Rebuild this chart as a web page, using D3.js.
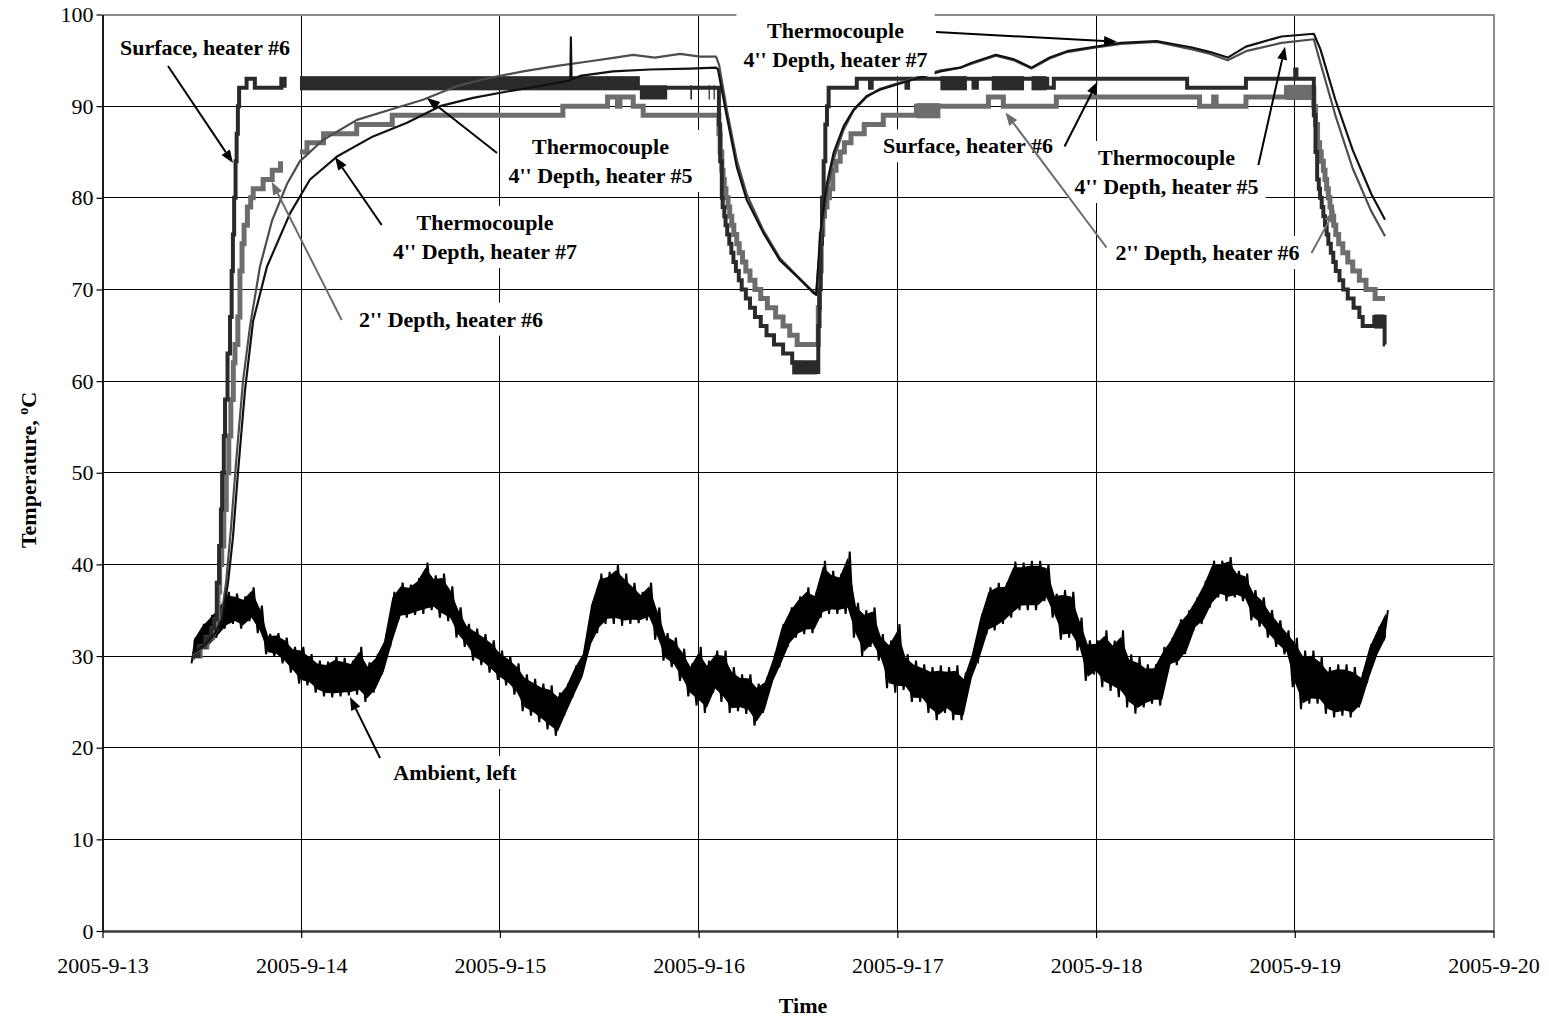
<!DOCTYPE html>
<html>
<head>
<meta charset="utf-8">
<script src="https://cdn.jsdelivr.net/npm/d3@7"></script>
<style>
  body { margin: 0; background: #fff; }
  svg text { font-family: "Liberation Serif", "Times New Roman", serif; }
</style>
</head>
<body>
<svg id="chart" width="1549" height="1021"></svg>
<script>
// ---- Data (hours counted from 2005-09-13 00:00, temperatures in °C) ----
const dayTicks = [0, 24, 48, 72, 96, 120, 144, 168];
const tempTicks = [0, 10, 20, 30, 40, 50, 60, 70, 80, 90, 100];

// Ambient: hourly low/high of the logged readings, first bin at hour 11
const ambientStartHour = 11;
const ambientLow = [
  29.2, 30.5, 31, 32, 33, 33.5, 33, 33.8, 32.5, 30.2, 30, 29.2, 28.2, 27, 26.8, 26, 25.6, 25.5, 25.6, 25.7,
  25.8, 25, 26, 28, 31, 34, 34.2, 34.5, 34.6, 35, 34.2, 33.8, 32, 31, 29.5, 29, 28.2, 27.4, 26.8, 25.8,
  24, 23.5, 22.8, 22, 21.3, 23.5, 25.5, 27.5, 30.8, 32.5, 33.5, 33.5, 33.3, 33.5, 33.6, 33.9, 31.8, 29.5, 28.8, 27.3,
  25.6, 24.6, 23.8, 26, 25, 23.8, 24, 23.7, 22.4, 23.8, 27, 28.8, 31, 32, 32.4, 32.5, 34.2, 34.6, 34.6, 34.6,
  32, 30, 31, 29.5, 26.5, 26, 26.3, 25, 25, 23.8, 23, 23.8, 23, 23, 27.3, 29.5, 32.4, 32.8, 33.5, 34.2,
  35, 35, 35, 36, 34.2, 31.8, 32, 30.6, 27.3, 28, 26.6, 26.2, 25.5, 24.4, 23.7, 24.4, 24.8, 24.6, 28.8, 29,
  30.2, 32.8, 33.5, 35.3, 36.4, 36, 36.4, 36, 33.9, 33.2, 32, 31, 30.2, 26.6, 24.2, 24.8, 24.8, 23.7, 23.3, 23.5,
  23.3, 24.4, 27.3, 29.9, 31.7
];
const ambientHigh = [
  32, 33.5, 34.5, 35.5, 37, 36.8, 36.5, 37.5, 35.5, 32.4, 32.5, 32, 31, 31, 30.2, 29.5, 29.4, 30, 29.8, 29.5,
  31, 29.3, 30.2, 32, 37, 38, 37.8, 38.5, 40.2, 38.8, 39, 37.6, 35.3, 33.5, 33, 32.4, 31.7, 30.6, 30, 29.2,
  28, 27.5, 27, 26.8, 26, 27, 29, 30.5, 36, 39, 39.2, 40, 39, 38, 37, 38, 35.3, 32.5, 32, 30.8,
  29.2, 31, 29.5, 30.6, 30.6, 28.8, 28, 28, 27, 27.5, 30, 33.5, 35.3, 36.5, 37.5, 37, 40.4, 39.3, 39, 41.4,
  35.8, 35, 35.3, 32.4, 31.7, 33.5, 30.2, 29.5, 29.1, 28.8, 29, 28.8, 29, 28, 30.5, 34.6, 37.5, 38, 38, 40.3,
  40.2, 40.4, 40.4, 40, 36.8, 37.2, 37, 34.2, 31.7, 31.7, 32.8, 31.7, 32.8, 30.2, 29.9, 29.1, 29.1, 31, 32, 34,
  35, 36.4, 38.2, 40.4, 40.4, 40.8, 39.3, 39, 37.2, 36.4, 35, 33.9, 32.8, 32, 30.6, 30.6, 29.9, 28.8, 29.1, 29.1,
  28.8, 28, 31.3, 33.2, 35
];

// Surface, heater #6: sensor change points [hour, °C] (1 °C resolution, null = no record)
const surfaceSteps = [
  [10.9, 30], [11.6, 31], [12.4, 32], [13.1, 33], [13.47, 34], [13.8, 38], [14.08, 42], [14.3, 46], [14.45, 50],
  [14.65, 54], [14.8, 58], [15.1, 63], [15.4, 67], [15.6, 72], [15.75, 76], [15.9, 80], [16.07, 84], [16.2, 87],
  [16.35, 90], [16.5, 92], [17.4, 93], [18.4, 92], [21.6, 93], [22.0, 92], [22.65, null], [23.85, 92],
  [74.3, 92], [74.45, 88], [74.6, 84], [74.8, 80], [74.9, 79], [75.1, 78], [75.25, 77], [75.45, 76], [75.7, 75],
  [75.95, 74], [76.2, 73], [76.5, 72], [76.85, 71], [77.2, 70], [77.7, 69], [78.2, 68], [78.8, 67], [79.5, 66],
  [80.2, 65], [81.1, 64], [82.2, 63], [83.3, 62], [84.3, 61],
  [86.3, 61], [86.45, 66], [86.6, 70], [86.75, 75], [86.9, 80], [87.1, 84], [87.3, 88], [87.5, 90], [87.7, 92],
  [91.1, 93], [92.7, 92], [92.9, 93], [97.1, 92], [97.3, 93], [105.2, 92], [105.6, 93], [114.1, 92], [114.9, 93],
  [131.0, 92], [138.1, 93], [144.05, 94], [144.2, 93],
  [146.1, 93], [146.3, 89], [146.5, 85], [146.7, 82], [146.9, 81], [147.05, 80], [147.25, 79], [147.45, 78],
  [147.65, 77], [147.85, 76], [148.05, 75], [148.35, 74], [148.65, 73], [148.95, 72], [149.4, 71], [149.85, 70],
  [150.4, 69], [151.1, 68], [151.8, 67], [152.2, 66], [153.6, 67], [154.85, 64], [154.9, 64]
];
// Spans where the reading toggles between two adjacent degrees [fromHour, toHour, low, high]
const surfaceToggle = [
  [23.85, 64.9, 92, 93], [64.9, 68.2, 91, 92], [71.0, 71.2, 91, 92], [73.2, 73.35, 91, 92], [73.8, 73.95, 91, 92],
  [83.3, 86.3, 61, 62], [101.2, 104.4, 92, 93], [107.4, 111.3, 92, 93], [112.2, 114.0, 92, 93], [153.6, 154.85, 66, 67]
];

// 2" depth, heater #6
const depth2Steps = [
  [10.9, 30], [11.8, 31], [12.6, 32], [13.3, 33], [13.7, 34], [13.95, 37], [14.15, 40], [14.4, 42], [14.65, 46],
  [14.95, 50], [15.25, 54], [15.5, 58], [15.8, 62], [16.0, 64], [16.35, 67], [16.6, 72], [16.85, 75], [17.1, 77],
  [17.5, 79], [17.9, 80], [18.2, 81], [19.4, 82], [20.5, 83], [21.5, 84], [22.65, null], [23.85, 85], [24.7, 86],
  [26.7, 87], [30.7, 88], [35.0, 89], [55.6, 90], [61.0, 91], [62.2, 90], [62.5, 91], [64.1, 90], [65.3, 89],
  [74.3, 89], [74.45, 87], [74.6, 85], [74.8, 83], [74.95, 82], [75.1, 81], [75.3, 80], [75.55, 79], [75.75, 78],
  [76.0, 77], [76.25, 76], [76.6, 75], [76.9, 74], [77.3, 73], [77.7, 72], [78.2, 71], [78.8, 70], [79.5, 69],
  [80.3, 68], [81.3, 67], [82.2, 66], [83.0, 65], [83.9, 64],
  [86.3, 64], [86.45, 68], [86.6, 72], [86.8, 76], [87.0, 78], [87.2, 79], [87.5, 80], [87.8, 81], [88.2, 83],
  [88.6, 84], [89.1, 85], [89.6, 86], [90.4, 87], [92.0, 88], [94.3, 89], [98.3, 90], [107.0, 91], [108.8, 90],
  [115.2, 91], [132.5, 90], [134.2, 91], [134.5, 90], [138.1, 91], [143.0, 92],
  [146.1, 92], [146.3, 90], [146.5, 88], [146.75, 86], [147.0, 85], [147.2, 84], [147.45, 83], [147.65, 82],
  [147.85, 81], [148.05, 80], [148.25, 79], [148.45, 78], [148.7, 77], [148.95, 76], [149.3, 75], [149.8, 74],
  [150.4, 73], [151.0, 72], [151.8, 71], [152.6, 70], [153.7, 69], [154.9, 69]
];
const depth2Toggle = [
  [98.3, 101.2, 89, 90], [143.0, 146.1, 91, 92]
];

// Thermocouple 4" depth, heater #7
const tc7 = [
  [10.93, 30.3], [12.38, 31.2], [13.59, 32.5], [14.43, 34], [15.16, 38], [15.76, 43], [16.36, 50], [17.21, 59],
  [18.18, 66.5], [19.87, 72.5], [22.65, 78.3], [25.06, 82], [28.32, 84.5], [32.67, 86.7], [36.78, 88.2],
  [40.77, 90.0], [44.76, 90.9], [48.86, 91.6], [52.84, 92.2], [56.5, 92.8], [56.57, 97.5], [56.65, 92.9],
  [57.68, 93.3], [61.67, 93.8], [66.1, 94.0], [70.95, 94.1], [74.1, 94.2],
  [74.34, 94.0], [75.4, 88.9], [76.6, 83.4], [77.8, 79.8], [79.8, 76.2], [81.8, 73.2], [83.9, 71.4], [85.9, 69.6],
  [86.2, 69.4], [86.7, 76.2], [87.5, 81.6], [88.3, 84.9], [89.5, 87.8], [90.7, 89.6], [92.3, 91.1], [93.9, 91.8],
  [97.5, 92.8], [101.2, 93.8], [103.6, 94.2], [104.9, 94.7], [107.9, 95.6], [110.1, 95.1], [112.2, 94.2],
  [114.4, 95.3], [116.5, 96.0], [120, 96.5], [123, 96.9], [127.3, 97.1], [131.6, 96.4], [133.8, 95.9],
  [135.9, 95.3], [138.1, 96.5], [142.4, 97.6], [146.3, 97.9],
  [147.1, 96.2], [148.9, 90.7], [151.0, 85.2], [153.2, 80.5], [154.9, 77.6]
];

// Thermocouple 4" depth, heater #5
const tc5 = [
  [10.93, 30.2], [12.38, 31.0], [13.59, 32.3], [14.31, 34], [14.92, 38], [15.52, 44], [16.12, 51], [16.97, 60],
  [17.82, 66], [19.02, 72.5], [20.47, 77.5], [22.28, 81.5], [23.85, 84], [26.63, 86.3], [30.73, 88.5],
  [34.72, 89.6], [38.71, 90.7], [42.82, 92.2], [46.81, 93.1], [50.8, 93.8], [54.9, 94.4], [58.88, 94.9],
  [61.9, 95.3], [64.08, 95.6], [66.7, 95.3], [69.76, 95.7], [72.17, 95.4], [74.1, 95.4],
  [74.47, 94.5], [75.43, 89.5], [76.64, 84.0], [77.84, 80.3], [79.78, 76.5], [81.83, 73.4], [83.88, 71.5],
  [85.8, 69.8], [86.2, 69.6], [86.7, 75], [87.5, 80.5], [88.3, 84.2], [89.5, 87.4], [90.7, 89.5], [92.3, 91.0],
  [93.9, 91.9], [97.5, 92.9], [101.2, 93.9], [103.6, 94.2], [104.9, 94.6], [107.9, 95.5], [110.1, 95.0],
  [112.2, 94.1], [114.4, 95.2], [116.5, 95.9], [120, 96.4], [123, 96.8], [127.3, 97.0], [131.6, 96.2],
  [133.8, 95.7], [135.9, 95.0], [138.1, 96.0], [142.4, 96.9], [146.3, 97.3],
  [147.0, 95.0], [148.9, 89.0], [151.0, 83.2], [153.2, 78.6], [154.9, 75.8]
];

// Callouts: text anchor, arrow tail and arrow tip, all as [hour, °C]
const callouts = [
  { lines: ["Surface, heater #6"], at: [12.38, 95.58], from: [7.91, 94.38], to: [15.76, 83.80], tone: "dark" },
  { lines: ["Thermocouple", "4'' Depth, heater #5"], at: [60.15, 84.78], from: [47.65, 84.89], to: [39.19, 90.89], tone: "dark" },
  { lines: ["Thermocouple", "4'' Depth, heater #7"], at: [46.2, 76.49], from: [33.72, 77.03], to: [28.08, 84.45], tone: "dark" },
  { lines: ["2'' Depth, heater #6"], at: [42.09, 65.94], from: [28.89, 66.67], to: [20.44, 81.76], tone: "grey" },
  { lines: ["Ambient, left"], at: [42.57, 16.48], from: [33.52, 18.88], to: [29.89, 25.53], tone: "dark" },
  { lines: ["Thermocouple", "4'' Depth, heater #7"], at: [88.53, 97.44], from: [100.67, 98.09], to: [122.53, 97.03], tone: "dark" },
  { lines: ["Surface, heater #6"], at: [104.53, 84.86], from: [116.19, 85.6], to: [120.17, 92.67], tone: "dark" },
  { lines: ["Thermocouple", "4'' Depth, heater #5"], at: [128.51, 83.58], from: [139.6, 83.58], to: [142.82, 96.49], tone: "dark" },
  { lines: ["2'' Depth, heater #6"], at: [133.46, 73.21], from: [121.26, 74.58], to: [109.06, 89.31], tone: "grey" },
  { lines: [], at: null, from: [146.02, 73.98], to: [148.86, 78.67], tone: "grey" }
];

// ---- Drawing ----
const base = new Date(2005, 8, 13);
const atHour = h => new Date(base.getTime() + h * 3600e3);

const svg = d3.select("#chart");
const x = d3.scaleTime().domain([atHour(0), atHour(168)]).range([102.5, 1493.5]);
const y = d3.scaleLinear().domain([0, 100]).range([931, 14.5]);
const px = d => x(atHour(d[0]));
const py = d => y(d[1]);

const FONT = 22;
const colors = {
  surface: "#2a2a2a",
  depth2: "#6d6d6d",
  tc7: "#111111",
  tc5: "#4d4d4d",
  ambient: "#000000",
  grid: "#000000",
  frame: "#8c8c8c"
};

// gridlines
const grid = svg.append("g").attr("shape-rendering", "crispEdges");
grid.selectAll("line.h").data(tempTicks.filter(t => t > 0 && t < 100)).join("line")
  .attr("x1", x.range()[0]).attr("x2", x.range()[1])
  .attr("y1", d => y(d)).attr("y2", d => y(d))
  .attr("stroke", colors.grid).attr("stroke-width", 1);
grid.selectAll("line.v").data(dayTicks.filter(h => h > 0 && h < 168)).join("line")
  .attr("x1", h => x(atHour(h))).attr("x2", h => x(atHour(h)))
  .attr("y1", y(0)).attr("y2", y(100))
  .attr("stroke", colors.grid).attr("stroke-width", 1);
// plot frame (top and right)
grid.append("path")
  .attr("d", `M${x.range()[0]},${y(100)}H${x.range()[1]}V${y(0)}`)
  .attr("fill", "none").attr("stroke", colors.frame).attr("stroke-width", 2);

// axes
const yAxis = svg.append("g").attr("transform", `translate(${x.range()[0]},0)`)
  .call(d3.axisLeft(y).tickValues(tempTicks).tickFormat(d3.format("d")).tickSize(6).tickSizeOuter(0).tickPadding(3));
const xAxis = svg.append("g").attr("transform", `translate(0,${y(0)})`)
  .call(d3.axisBottom(x).tickValues(dayTicks.map(atHour)).tickFormat(d3.timeFormat("%Y-%-m-%-d"))
    .tickSize(7).tickSizeOuter(0).tickPadding(19));
[yAxis, xAxis].forEach(g => {
  g.selectAll("text").attr("font-size", FONT).attr("fill", "#000")
    .attr("font-family", "'Liberation Serif', 'Times New Roman', serif");
  g.selectAll(".tick line").attr("stroke", "#000").attr("stroke-width", 1.2);
});
yAxis.select(".domain").attr("stroke", "#1a1a1a").attr("stroke-width", 2);
xAxis.select(".domain").attr("stroke", "#3a3a3a").attr("stroke-width", 2.5);

// axis titles
svg.append("text")
  .attr("x", 803).attr("y", 1013).attr("text-anchor", "middle")
  .attr("font-size", FONT).attr("font-weight", "bold").text("Time");
const yTitle = svg.append("text")
  .attr("transform", "translate(36,470) rotate(-90)")
  .attr("text-anchor", "middle").attr("font-size", FONT).attr("font-weight", "bold");
yTitle.append("tspan").text("Temperature, ");
yTitle.append("tspan").attr("font-size", 14).attr("dy", -8).text("o");
yTitle.append("tspan").attr("dy", 8).text("C");

// series
const plot = svg.append("g");
const smooth = d3.line().defined(d => d[1] != null).x(px).y(py);
const stepped = d3.line().defined(d => d[1] != null).x(px).y(py).curve(d3.curveStepAfter);

// ambient: dense core of each hourly bin, then a trace swinging between its low and high readings
const ambientBins = ambientLow.map((lo, i) => ({ h: ambientStartHour + i, lo, hi: ambientHigh[i] }));
plot.append("path")
  .datum(ambientBins)
  .attr("d", d3.area()
    .x(d => x(atHour(d.h)))
    .y0(d => y(d.lo + (d.hi - d.lo) * 0.1))
    .y1(d => y(d.hi - (d.hi - d.lo) * 0.1)))
  .attr("fill", colors.ambient);
const ambientTrace = [];
ambientBins.forEach(b => {
  ambientTrace.push([b.h - 0.25, b.lo], [b.h + 0.25, b.hi]);
});
plot.append("path").attr("d", smooth(ambientTrace))
  .attr("fill", "none").attr("stroke", colors.ambient).attr("stroke-width", 2)
  .attr("stroke-linejoin", "miter");

function drawSteps(steps, toggles, color, width) {
  plot.append("path").attr("d", stepped(steps))
    .attr("fill", "none").attr("stroke", color).attr("stroke-width", width)
    .attr("stroke-linejoin", "miter");
  plot.selectAll(null).data(toggles).join("rect")
    .attr("x", d => x(atHour(d[0])))
    .attr("width", d => x(atHour(d[1])) - x(atHour(d[0])))
    .attr("y", d => y(d[3]) - width / 2 - 0.5)
    .attr("height", d => y(d[2]) - y(d[3]) + width + 1)
    .attr("fill", color);
}
drawSteps(depth2Steps, depth2Toggle, colors.depth2, 5);
drawSteps(surfaceSteps, surfaceToggle, colors.surface, 4);

plot.append("path").attr("d", smooth(tc5))
  .attr("fill", "none").attr("stroke", colors.tc5).attr("stroke-width", 2.2).attr("stroke-linejoin", "round");
plot.append("path").attr("d", smooth(tc7))
  .attr("fill", "none").attr("stroke", colors.tc7).attr("stroke-width", 2.2).attr("stroke-linejoin", "round");

// callouts: white text boxes, then arrows on top
const notes = svg.append("g");
const arrows = svg.append("g");
const LINE_GAP = 29;
callouts.forEach(c => {
  if (c.at && c.lines.length) {
    const g = notes.append("g");
    const t = g.append("text")
      .attr("text-anchor", "middle").attr("font-size", FONT).attr("font-weight", "bold").attr("fill", "#000");
    c.lines.forEach((line, i) => {
      t.append("tspan").attr("x", px(c.at)).attr("y", py(c.at) + i * LINE_GAP).text(line);
    });
    const b = t.node().getBBox();
    g.insert("rect", "text")
      .attr("x", b.x - 7).attr("y", b.y - 4).attr("width", b.width + 14).attr("height", b.height + 8)
      .attr("fill", "#fff");
  }
  const x0 = px(c.from), y0 = py(c.from), x1 = px(c.to), y1 = py(c.to);
  const ang = Math.atan2(y1 - y0, x1 - x0);
  const len = 13, half = 5;
  const bx = x1 - len * Math.cos(ang), by = y1 - len * Math.sin(ang);
  const col = c.tone === "grey" ? "#6d6d6d" : "#000";
  arrows.append("line").attr("x1", x0).attr("y1", y0).attr("x2", bx).attr("y2", by)
    .attr("stroke", col).attr("stroke-width", 2);
  arrows.append("path")
    .attr("d", `M${x1},${y1}L${bx - half * Math.sin(ang)},${by + half * Math.cos(ang)}L${bx + half * Math.sin(ang)},${by - half * Math.cos(ang)}Z`)
    .attr("fill", col);
});
</script>
</body>
</html>
